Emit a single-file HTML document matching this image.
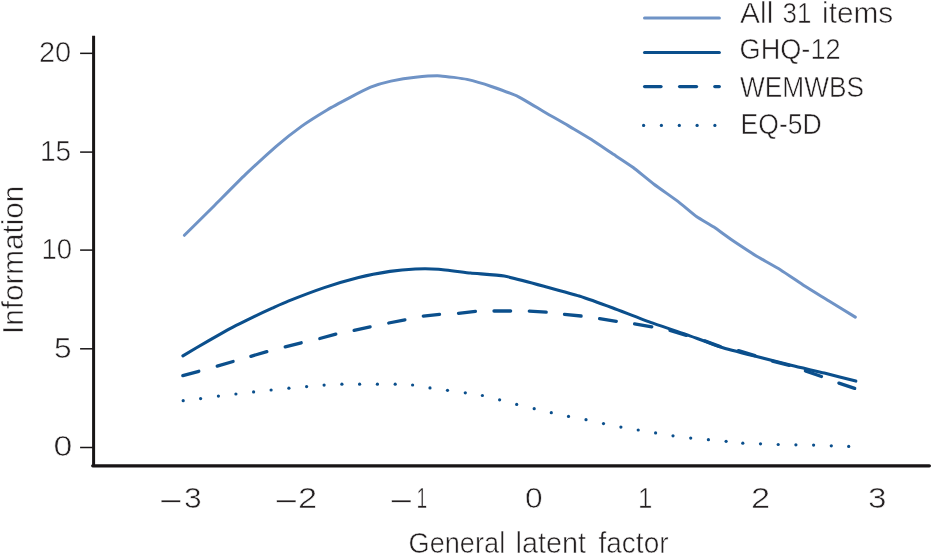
<!DOCTYPE html>
<html lang="en">
<head>
<meta charset="utf-8">
<title>Information curves</title>
<style>
html,body{margin:0;padding:0;background:#fff;}
body{width:932px;height:555px;overflow:hidden;}
svg{display:block;}
text{font-family:"Liberation Sans","DejaVu Sans",sans-serif;font-size:29px;fill:#231f20;stroke:#fff;stroke-width:0.55;}
</style>
</head>
<body>
<svg width="932" height="555" viewBox="0 0 932 555">
<rect width="932" height="555" fill="#fff"/>
<g stroke="#181516" fill="none">
<path d="M93.6 35.8 V465.7" stroke-width="3.0"/>
<path d="M92.7 465.8 H929.4" stroke-width="3.2" stroke-linecap="round"/>
<line x1="80.1" y1="53.35" x2="93" y2="53.35" stroke-width="1.5"/>
<line x1="80.1" y1="152.1" x2="93" y2="152.1" stroke-width="1.5"/>
<line x1="80.1" y1="250.1" x2="93" y2="250.1" stroke-width="1.5"/>
<line x1="80.1" y1="348.8" x2="93" y2="348.8" stroke-width="1.5"/>
<line x1="80.1" y1="447.5" x2="93" y2="447.5" stroke-width="1.5"/>
</g>
<text x="39.00" y="61.6" textLength="32.24" lengthAdjust="spacingAndGlyphs">20</text>
<text x="40.00" y="160.6" textLength="31.15" lengthAdjust="spacingAndGlyphs">15</text>
<text x="41.50" y="258.9" textLength="30.56" lengthAdjust="spacingAndGlyphs">10</text>
<text x="54.00" y="357.5" textLength="17.60" lengthAdjust="spacingAndGlyphs">5</text>
<text x="53.50" y="455.8" textLength="18.79" lengthAdjust="spacingAndGlyphs">0</text>
<text x="159.50" y="511.09999999999997" textLength="23.18" lengthAdjust="spacingAndGlyphs" style="stroke-width:0.3">−</text>
<text x="184.00" y="507.7" textLength="17.65" lengthAdjust="spacingAndGlyphs">3</text>
<text x="275.00" y="511.09999999999997" textLength="23.18" lengthAdjust="spacingAndGlyphs" style="stroke-width:0.3">−</text>
<text x="298.00" y="507.7" textLength="19.13" lengthAdjust="spacingAndGlyphs">2</text>
<text x="390.00" y="511.09999999999997" textLength="23.18" lengthAdjust="spacingAndGlyphs" style="stroke-width:0.3">−</text>
<text x="416.50" y="507.7" textLength="10.67" lengthAdjust="spacingAndGlyphs">1</text>
<text x="525.00" y="507.7" textLength="17.63" lengthAdjust="spacingAndGlyphs">0</text>
<text x="638.00" y="507.7" textLength="14.38" lengthAdjust="spacingAndGlyphs">1</text>
<text x="751.00" y="507.7" textLength="19.15" lengthAdjust="spacingAndGlyphs">2</text>
<text x="868.00" y="507.7" textLength="18.46" lengthAdjust="spacingAndGlyphs">3</text>
<text x="408.50" y="553.2" textLength="96.67" lengthAdjust="spacingAndGlyphs">General</text>
<text x="515.50" y="553.2" textLength="70.62" lengthAdjust="spacingAndGlyphs">latent</text>
<text x="598.50" y="553.2" textLength="70.04" lengthAdjust="spacingAndGlyphs">factor</text>
<text x="740.00" y="22.7" textLength="33.33" lengthAdjust="spacingAndGlyphs">All</text>
<text x="782.50" y="22.7" textLength="28.85" lengthAdjust="spacingAndGlyphs">31</text>
<text x="822.00" y="22.7" textLength="71.26" lengthAdjust="spacingAndGlyphs">items</text>
<text x="739.50" y="59.3" textLength="101.14" lengthAdjust="spacingAndGlyphs">GHQ-12</text>
<text x="740.00" y="96.7" textLength="124.08" lengthAdjust="spacingAndGlyphs">WEMWBS</text>
<text x="740.50" y="133.9" textLength="81.22" lengthAdjust="spacingAndGlyphs">EQ-5D</text>
<text transform="translate(23.3 334.00) rotate(-90)" textLength="148.19" lengthAdjust="spacingAndGlyphs">Information</text>
<path d="M184.4 235.3 C186.9 232.8 209.4 210.6 214.5 205.5 C219.6 200.4 240.2 179.6 245.3 174.7 C250.4 169.8 271.5 150.4 276.2 146.3 C280.9 142.2 297.5 129.2 301.8 126.1 C306.1 123.0 323.5 112.1 327.5 109.7 C331.5 107.3 346.2 99.5 349.8 97.6 C353.4 95.7 367.2 88.6 370.6 87.2 C374.0 85.8 387.2 81.9 390.9 81.1 C394.6 80.3 411.4 77.6 415.5 77.2 C419.6 76.8 436.2 75.7 440.5 75.9 C444.8 76.1 462.8 78.5 467.0 79.4 C471.2 80.3 487.1 85.0 491.4 86.5 C495.7 88.0 514.3 94.7 518.6 96.8 C522.9 98.9 539.0 108.8 543.1 111.2 C547.2 113.6 564.2 123.2 568.2 125.6 C572.2 128.0 587.6 137.1 591.4 139.5 C595.2 141.9 610.4 152.3 613.9 154.6 C617.4 156.9 629.9 165.0 633.2 167.5 C636.5 170.0 650.3 181.4 654.0 184.2 C657.7 187.0 674.3 198.7 677.9 201.4 C681.5 204.1 693.8 214.7 696.8 216.8 C699.8 218.9 710.8 225.0 713.9 227.1 C717.0 229.2 730.9 239.4 734.5 241.8 C738.1 244.2 752.9 253.9 756.7 256.2 C760.6 258.5 776.7 267.4 780.7 269.9 C784.7 272.4 800.7 283.4 804.7 286.0 C808.7 288.6 824.4 298.1 828.6 300.7 C832.8 303.3 853.1 315.7 855.3 317.1" fill="none" stroke="#6f93c6" stroke-width="3.0" stroke-linejoin="round" stroke-linecap="round"/>
<path d="M182.9 355.8 C185.1 354.5 204.8 342.9 208.8 340.6 C212.8 338.3 226.8 330.3 230.5 328.3 C234.2 326.3 250.1 318.5 253.6 316.8 C257.1 315.1 269.4 309.4 272.3 308.1 C275.2 306.8 283.9 302.8 288.2 301.1 C292.5 299.4 318.4 289.6 324.3 287.6 C330.2 285.6 353.1 278.9 358.6 277.5 C364.1 276.1 385.3 272.1 390.0 271.4 C394.7 270.7 411.3 269.2 415.3 269.0 C419.3 268.8 433.9 268.9 438.5 269.2 C443.1 269.5 465.0 272.4 470.5 273.0 C476.0 273.6 498.1 274.9 504.2 276.0 C510.3 277.1 537.8 284.5 544.0 286.2 C550.2 287.9 573.5 294.2 579.2 296.0 C584.9 297.8 607.0 305.8 612.9 308.0 C618.8 310.2 644.4 320.2 650.5 322.4 C656.6 324.6 680.0 332.3 685.9 334.4 C691.8 336.5 715.4 345.4 721.3 347.3 C727.2 349.2 750.8 355.1 756.7 356.6 C762.6 358.1 786.5 364.2 792.1 365.6 C797.7 367.0 819.0 371.7 824.3 373.0 C829.6 374.3 853.2 380.4 855.8 381.1" fill="none" stroke="#0b4f8c" stroke-width="3.1" stroke-linejoin="round" stroke-linecap="round"/>
<g stroke="#0b4f8c" stroke-width="3.3" stroke-linecap="round" fill="none">
<line x1="182.8" y1="375.6" x2="198.8" y2="371.3"/>
<line x1="217.2" y1="366.1" x2="233.1" y2="361.5"/>
<line x1="250.9" y1="356.3" x2="266.8" y2="351.7"/>
<line x1="285.2" y1="346.8" x2="301.2" y2="342.8"/>
<line x1="319.8" y1="338.5" x2="335.8" y2="334.2"/>
<line x1="354.1" y1="330.3" x2="370.1" y2="326.9"/>
<line x1="388.7" y1="323.0" x2="404.9" y2="319.9"/>
<line x1="423.3" y1="316.1" x2="439.5" y2="314.4"/>
<line x1="458.5" y1="313.3" x2="475.4" y2="311.4"/>
<line x1="494.0" y1="311.0" x2="510.6" y2="311.0"/>
<line x1="529.3" y1="311.1" x2="546.2" y2="312.1"/>
<line x1="564.5" y1="314.4" x2="581.1" y2="316.0"/>
<line x1="599.6" y1="318.7" x2="616.3" y2="321.3"/>
<line x1="634.6" y1="323.9" x2="651.8" y2="326.8"/>
<line x1="670.0" y1="330.5" x2="686.3" y2="335.4"/>
<line x1="704.7" y1="340.9" x2="720.2" y2="346.6"/>
<line x1="738.5" y1="350.6" x2="754.9" y2="355.6"/>
<line x1="772.4" y1="361.1" x2="789.3" y2="365.3"/>
<line x1="805.4" y1="370.9" x2="821.5" y2="376.5"/>
<line x1="838.9" y1="383.1" x2="854.7" y2="388.4"/>
</g>
<g fill="#0b4f8c">
<circle cx="183.2" cy="400.7" r="1.6"/>
<circle cx="200.6" cy="398.6" r="1.6"/>
<circle cx="218.4" cy="396.1" r="1.6"/>
<circle cx="235.9" cy="394" r="1.6"/>
<circle cx="253.6" cy="391.9" r="1.6"/>
<circle cx="271.1" cy="390" r="1.6"/>
<circle cx="288.9" cy="388.2" r="1.6"/>
<circle cx="306.6" cy="386.6" r="1.6"/>
<circle cx="324.1" cy="385.1" r="1.6"/>
<circle cx="341.9" cy="384.2" r="1.6"/>
<circle cx="359.6" cy="384.2" r="1.6"/>
<circle cx="377.4" cy="384.2" r="1.6"/>
<circle cx="395.2" cy="384.2" r="1.6"/>
<circle cx="412.6" cy="385" r="1.6"/>
<circle cx="430" cy="387.9" r="1.6"/>
<circle cx="447.5" cy="390.3" r="1.6"/>
<circle cx="465.3" cy="392.8" r="1.6"/>
<circle cx="482.4" cy="395.5" r="1.6"/>
<circle cx="499.6" cy="399.8" r="1.6"/>
<circle cx="516.7" cy="404.4" r="1.6"/>
<circle cx="534.2" cy="408.7" r="1.6"/>
<circle cx="551.3" cy="412.7" r="1.6"/>
<circle cx="568.5" cy="416.4" r="1.6"/>
<circle cx="586" cy="419.7" r="1.6"/>
<circle cx="603.5" cy="423.6" r="1.6"/>
<circle cx="620.9" cy="427.1" r="1.6"/>
<circle cx="638.2" cy="430" r="1.6"/>
<circle cx="655.6" cy="432.9" r="1.6"/>
<circle cx="673" cy="435.8" r="1.6"/>
<circle cx="690.7" cy="438.1" r="1.6"/>
<circle cx="708.4" cy="439.7" r="1.6"/>
<circle cx="726.1" cy="441.3" r="1.6"/>
<circle cx="742.8" cy="443.2" r="1.6"/>
<circle cx="760.5" cy="443.8" r="1.6"/>
<circle cx="778.2" cy="444.5" r="1.6"/>
<circle cx="795.9" cy="444.8" r="1.6"/>
<circle cx="813.6" cy="445.1" r="1.6"/>
<circle cx="831.3" cy="445.8" r="1.6"/>
<circle cx="848.7" cy="446.4" r="1.6"/>
</g>
<line x1="644.5" y1="18.1" x2="719.4" y2="18.1" stroke="#6f93c6" stroke-width="3.0" stroke-linecap="round"/>
<line x1="644.5" y1="52.5" x2="719.4" y2="52.5" stroke="#0b4f8c" stroke-width="3.0" stroke-linecap="round"/>
<g stroke="#0b4f8c" stroke-width="3.3" stroke-linecap="round"><line x1="644.6" y1="86.6" x2="661" y2="86.6"/><line x1="679.6" y1="86.6" x2="696.5" y2="86.6"/><line x1="714.8" y1="86.6" x2="719.3" y2="86.6"/></g>
<g fill="#0b4f8c"><circle cx="643.6" cy="125.4" r="1.6"/><circle cx="661.4" cy="125.4" r="1.6"/><circle cx="679.3" cy="125.4" r="1.6"/><circle cx="697.1" cy="125.4" r="1.6"/><circle cx="714.9" cy="125.4" r="1.6"/></g>
</svg>
</body>
</html>
